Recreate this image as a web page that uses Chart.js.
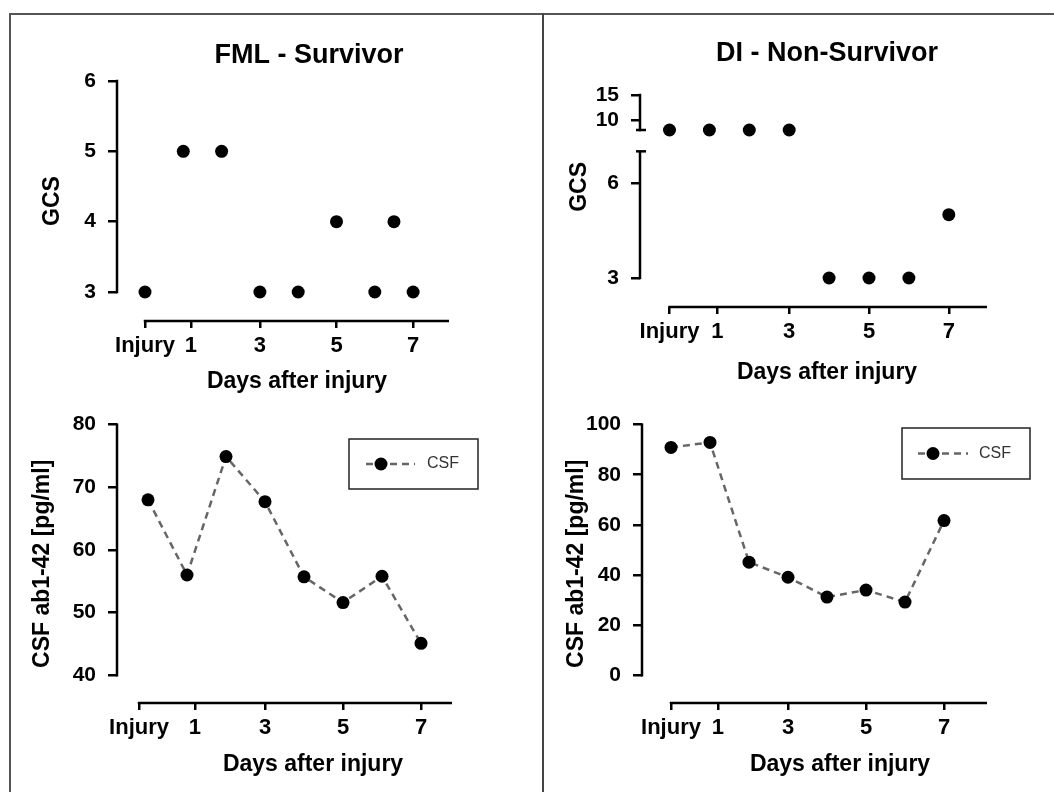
<!DOCTYPE html>
<html>
<head>
<meta charset="utf-8">
<script src="https://cdn.jsdelivr.net/npm/chart.js@4.4.1/dist/chart.umd.min.js"></script>
<style>
html, body { margin: 0; padding: 0; background: #fff; overflow: hidden; width: 1054px; height: 792px; }
#frame { position: absolute; left: 9px; top: 13px; width: 1045px; height: 779px; border-top: 2px solid #555; border-left: 2px solid #555; box-sizing: border-box; }
#divider { position: absolute; left: 542px; top: 13px; width: 2px; height: 779px; background: #444; }
canvas { position: absolute; }
</style>
</head>
<body>
<div id="frame"></div>
<div id="divider"></div>
<canvas id="c1" width="598" height="386" style="left:10px;top:14px;width:598px;height:386px"></canvas>
<canvas id="c2" width="510" height="386" style="left:544px;top:14px;width:510px;height:386px"></canvas>
<canvas id="c3" width="533" height="392" style="left:10px;top:400px;width:533px;height:392px"></canvas>
<canvas id="c4" width="510" height="392" style="left:544px;top:400px;width:510px;height:392px"></canvas>
<script>
// ---------- data ----------
const dayTickValues    = [0, 1.2, 3, 5, 7];
const fmlCsfTickValues = [-0.23, 1.2, 3, 5, 7];
const dayTickLabels    = ['Injury', '1', '3', '5', '7'];

const fmlDays = [0, 1, 2, 3, 4, 5, 6, 6.5, 7];
const fmlGcs  = [3, 5, 5, 3, 3, 4, 3, 4, 3];

const diDays = [0, 1, 2, 3, 4, 5, 6, 7];
const diGcs  = [8, 8, 8, 8, 3, 3, 3, 5];
const gcsBreak = 7.5; // values above the axis break go to the upper segment

const fmlCsfDays = [0, 1, 2, 3, 4, 5, 6, 7];
const fmlCsf     = [68.0, 56.0, 74.9, 67.7, 55.7, 51.6, 55.8, 45.1];

const diCsfDays = [0, 1, 2, 3, 4, 5, 6, 7];
const diCsf     = [90.9, 92.9, 45.1, 39.1, 31.2, 34.0, 29.2, 61.7];

const fmlGcsTicks    = [3, 4, 5, 6];
const diGcsLowTicks  = [3, 6];
const diGcsHighTicks = [10, 15];
const fmlCsfTicks    = [40, 50, 60, 70, 80];
const diCsfTicks     = [0, 20, 40, 60, 80, 100];

// ---------- styling ----------
const FONT = "'Liberation Sans', Arial, Helvetica, sans-serif";
Chart.defaults.font.family = FONT;
Chart.defaults.color = '#000';

const prismAxes = {
  id: 'prismAxes',
  beforeDatasetsDraw(chart, args, o) {
    if (!o || !o.segments) return;
    const {ctx, chartArea, scales} = chart;
    const w = 2.5;
    ctx.save();
    ctx.strokeStyle = '#000';
    ctx.lineWidth = w;
    const xs = scales.x;
    const x0 = xs.getPixelForValue(xs.ticks[0].value);
    const x1 = o.axisEnd !== undefined ? xs.getPixelForValue(o.axisEnd) : chartArea.right;
    ctx.beginPath();
    ctx.moveTo(x0 - w / 2, chartArea.bottom);
    ctx.lineTo(x1, chartArea.bottom);
    ctx.stroke();
    for (const seg of o.segments) {
      const s = scales[seg.scale];
      const yA = s.getPixelForValue(seg.from);
      const yB = s.getPixelForValue(seg.to);
      ctx.beginPath();
      ctx.moveTo(chartArea.left, yA + w / 2);
      ctx.lineTo(chartArea.left, yB - (seg.cap === seg.to ? 0 : w / 2));
      ctx.stroke();
      if (seg.cap !== undefined) {
        const yc = s.getPixelForValue(seg.cap);
        ctx.beginPath();
        ctx.moveTo(chartArea.left - 4, yc);
        ctx.lineTo(chartArea.left + 6, yc);
        ctx.stroke();
      }
    }
    ctx.restore();
  }
};

const boxLegend = {
  id: 'boxLegend',
  afterDatasetsDraw(chart, args, o) {
    if (!o || !o.box) return;
    const ds = chart.data.datasets[0];
    const {ctx} = chart;
    const b = o.box;
    const cy = b.y + b.h / 2;
    ctx.save();
    ctx.strokeStyle = '#222';
    ctx.lineWidth = 1.5;
    ctx.strokeRect(b.x, b.y, b.w, b.h);
    ctx.strokeStyle = ds.borderColor;
    ctx.lineWidth = ds.borderWidth;
    ctx.setLineDash(ds.borderDash);
    ctx.beginPath();
    ctx.moveTo(b.x + o.lineStart, cy);
    ctx.lineTo(b.x + o.lineEnd, cy);
    ctx.stroke();
    ctx.setLineDash([]);
    ctx.fillStyle = ds.pointBackgroundColor;
    ctx.beginPath();
    ctx.arc(b.x + o.dotX, cy, ds.pointRadius, 0, Math.PI * 2);
    ctx.fill();
    ctx.fillStyle = '#333';
    ctx.font = '16px ' + FONT;
    ctx.textBaseline = 'middle';
    ctx.fillText(ds.label, b.x + o.textX, cy);
    ctx.restore();
  }
};
Chart.register(prismAxes, boxLegend);

function dayAxis(min, max, height, titlePadBottom, tickValues) {
  const tv = tickValues || dayTickValues;
  return {
    type: 'linear', position: 'bottom', min, max,
    afterBuildTicks: s => { s.ticks = tv.map(v => ({ value: v })); },
    afterFit: s => { s.height = height; },
    border: { display: false },
    grid: { display: true, drawOnChartArea: false, drawTicks: true, tickLength: 7, color: '#000', lineWidth: 2.5 },
    ticks: { color: '#000', font: { size: 22, weight: 'bold' }, padding: 5, autoSkip: false, maxRotation: 0,
             callback: (v, i) => dayTickLabels[i] },
    title: { display: true, text: 'Days after injury', color: '#000', font: { size: 23, weight: 'bold' },
             padding: { top: 0, bottom: titlePadBottom } }
  };
}

function valueAxis(min, max, tickValues, width, text, titlePadTop, extra) {
  const a = {
    type: 'linear', position: 'left', min, max,
    afterBuildTicks: s => { s.ticks = tickValues.map(v => ({ value: v })); },
    afterFit: s => { s.width = width; },
    border: { display: false },
    grid: { display: true, drawOnChartArea: false, drawTicks: true, tickLength: 9, color: '#000', lineWidth: 2.5 },
    ticks: { color: '#000', font: { size: 21, weight: 'bold' }, padding: 12 },
    title: text ? { display: true, text, color: '#000', font: { size: 23, weight: 'bold' },
                    padding: { top: titlePadTop, bottom: 0 } } : { display: false }
  };
  return Object.assign(a, extra || {});
}

// empty right-hand spacer axis (keeps the axis title centred on the x axis line)
function spacerAxis(width) {
  return { type: 'linear', position: 'right', display: true,
           afterFit: s => { s.width = width; },
           border: { display: false }, grid: { display: false }, ticks: { display: false }, title: { display: false } };
}

const common = { responsive: false, animation: false, events: [] };
const pts = (xs, ys) => xs.map((d, i) => ({ x: d, y: ys[i] }));
const dotStyle = { pointRadius: 6.5, pointHoverRadius: 6.5, backgroundColor: '#000', pointBackgroundColor: '#000', borderWidth: 0, pointBorderWidth: 0 };
const lineStyle = { borderColor: '#666', borderWidth: 2.5, borderDash: [7, 5], tension: 0,
                    pointRadius: 6.5, pointHoverRadius: 6.5, pointBackgroundColor: '#000', pointBorderWidth: 0, pointBorderColor: '#000', fill: false };
const titleFont = { size: 27, weight: 'bold' };

// ---------- panel 1: FML GCS ----------
new Chart(document.getElementById('c1'), {
  type: 'scatter',
  data: { datasets: [Object.assign({ label: 'GCS', data: pts(fmlDays, fmlGcs) }, dotStyle)] },
  options: Object.assign({}, common, {
    layout: { padding: { top: 0, right: 0, bottom: 0, left: 0 } },
    plugins: {
      legend: { display: false }, tooltip: { enabled: false },
      title: { display: true, text: 'FML - Survivor', color: '#000', font: titleFont, padding: { top: 25.8, bottom: 8.8 } },
      prismAxes: { axisEnd: 7.937, segments: [{ scale: 'y', from: 3, to: 6 }] }
    },
    scales: {
      x: dayAxis(-0.731, 8.668, 79, 4.2),
      y: valueAxis(2.588, 6, fmlGcsTicks, 107, 'GCS', 29.2),
      spacer: spacerAxis(131)
    }
  })
});

// ---------- panel 2: DI GCS (broken axis) ----------
const diHigh = diDays.map((d, i) => ({ x: d, y: diGcs[i] })).filter(p => p.y > gcsBreak);
const diLow  = diDays.map((d, i) => ({ x: d, y: diGcs[i] })).filter(p => p.y <= gcsBreak);
const lowAxis = valueAxis(2.084, 6.663, diGcsLowTicks, 96, 'GCS', 22.2, { stack: 'gcs', stackWeight: 145, weight: 0 });
lowAxis.title.align = 'end';
new Chart(document.getElementById('c2'), {
  type: 'scatter',
  data: { datasets: [
    Object.assign({ label: 'GCS', data: diLow, yAxisID: 'y' }, dotStyle),
    Object.assign({ label: 'GCS high', data: diHigh, yAxisID: 'yHigh' }, dotStyle)
  ] },
  options: Object.assign({}, common, {
    layout: { padding: { top: 0, right: 40, bottom: 0, left: 0 } },
    plugins: {
      legend: { display: false }, tooltip: { enabled: false },
      title: { display: true, fullSize: false, text: 'DI - Non-Survivor', color: '#000', font: titleFont, padding: { top: 23.8, bottom: 17.8 } },
      prismAxes: { axisEnd: 7.957, segments: [{ scale: 'y', from: 3, to: 7, cap: 7 }, { scale: 'yHigh', from: 8, to: 15, cap: 8 }] }
    },
    scales: {
      x: dayAxis(-0.739, 8.634, 93, 13.2),
      y: lowAxis,
      yHigh: valueAxis(1.6, 16.4, diGcsHighTicks, 96, null, 0, { stack: 'gcs', stackWeight: 74, weight: 1 })
    }
  })
});

// ---------- panel 3: FML CSF ----------
new Chart(document.getElementById('c3'), {
  type: 'line',
  data: { datasets: [Object.assign({ label: 'CSF', data: pts(fmlCsfDays, fmlCsf) }, lineStyle)] },
  options: Object.assign({}, common, {
    layout: { padding: { top: 22, right: 34, bottom: 0, left: 0 } },
    plugins: {
      legend: { display: false }, tooltip: { enabled: false },
      prismAxes: { axisEnd: 7.795, segments: [{ scale: 'y', from: 40, to: 80 }] },
      boxLegend: { box: { x: 339, y: 39, w: 129, h: 50 }, lineStart: 17, lineEnd: 66, dotX: 32, textX: 78 }
    },
    scales: {
      x: dayAxis(-0.795, 9.256, 89, 13.2, fmlCsfTickValues),
      y: valueAxis(35.57, 80, fmlCsfTicks, 107, 'CSF ab1-42 [pg/ml]', 19.2)
    }
  })
});

// ---------- panel 4: DI CSF ----------
new Chart(document.getElementById('c4'), {
  type: 'line',
  data: { datasets: [Object.assign({ label: 'CSF', data: pts(diCsfDays, diCsf) }, lineStyle)] },
  options: Object.assign({}, common, {
    layout: { padding: { top: 22, right: 16, bottom: 0, left: 0 } },
    plugins: {
      legend: { display: false }, tooltip: { enabled: false },
      prismAxes: { axisEnd: 8.103, segments: [{ scale: 'y', from: 0, to: 100 }] },
      boxLegend: { box: { x: 358, y: 28, w: 128, h: 51 }, lineStart: 16, lineEnd: 66, dotX: 31, textX: 77 }
    },
    scales: {
      x: dayAxis(-0.744, 9.41, 89, 13.2),
      y: valueAxis(-11.07, 100, diCsfTicks, 98, 'CSF ab1-42 [pg/ml]', 19.2)
    }
  })
});
</script>
</body>
</html>
